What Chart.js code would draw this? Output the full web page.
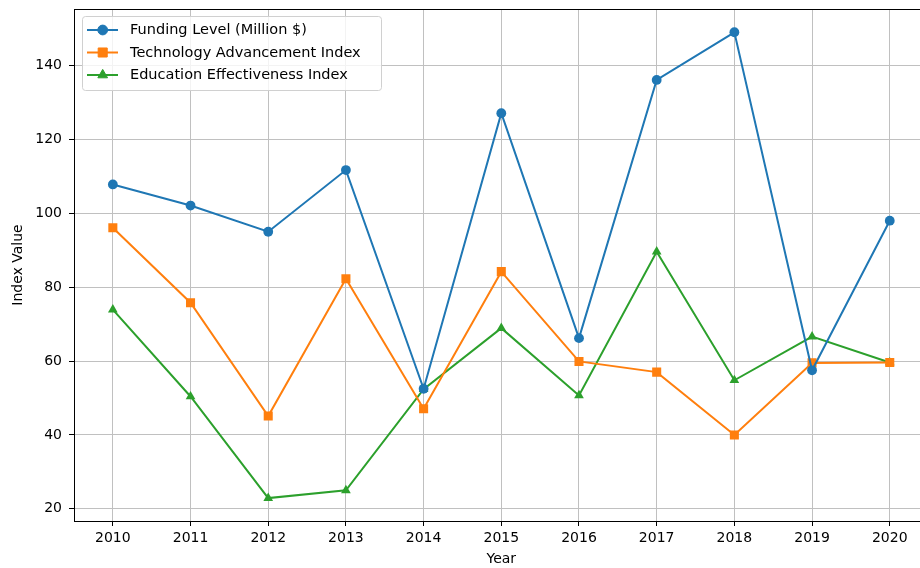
<!DOCTYPE html>
<html>
<head>
<meta charset="utf-8">
<script src="https://cdn.jsdelivr.net/npm/chart.js@4/dist/chart.umd.min.js"></script>
<style>
html,body{margin:0;padding:0;background:#fff;overflow:hidden;width:920px;height:568px;}
canvas{display:block;}
</style>
</head>
<body>
<canvas id="c" width="935" height="568"></canvas>
<script>
const years = [2010, 2011, 2012, 2013, 2014, 2015, 2016, 2017, 2018, 2019, 2020];
const funding = [107.8, 102.1, 95.0, 111.7, 52.5, 127.1, 66.2, 136.1, 149.0, 57.5, 98.0];
const technology = [96.1, 75.8, 45.1, 82.3, 47.1, 84.2, 59.9, 57.0, 40.0, 59.5, 59.6];
const education = [73.9, 50.4, 22.9, 25.0, 52.4, 68.9, 50.7, 89.6, 54.8, 66.6, 59.6];
const yTicks = [20, 40, 60, 80, 100, 120, 140];
const seriesNames = ['Funding Level (Million $)', 'Technology Advancement Index', 'Education Effectiveness Index'];

const FONT = 'DejaVu Sans';
const pts = arr => years.map((y, i) => ({x: y, y: arr[i]}));

const spinePlugin = {
  id: 'spines',
  afterDatasetsDraw(chart) {
    const {ctx, chartArea: a} = chart;
    ctx.save();
    ctx.strokeStyle = '#000';
    ctx.lineWidth = 1;
    ctx.strokeRect(Math.round(a.left) + 0.5, Math.round(a.top) + 0.5, Math.round(a.right - a.left), Math.round(a.bottom - a.top));
    ctx.restore();
  }
};

const legendPlugin = {
  id: 'mplLegend',
  afterDraw(chart) {
    const ctx = chart.ctx;
    const x0 = 82, y0 = 16, w = 299, h = 74;
    ctx.save();
    ctx.beginPath();
    if (ctx.roundRect) ctx.roundRect(x0 + 0.5, y0 + 0.5, w, h, 3); else ctx.rect(x0 + 0.5, y0 + 0.5, w, h);
    ctx.fillStyle = 'rgba(255,255,255,0.8)';
    ctx.fill();
    ctx.strokeStyle = '#d0d0d0';
    ctx.lineWidth = 1;
    ctx.stroke();
    chart.data.datasets.forEach((ds, i) => {
      const cy = 30 + i * 22.5;
      ctx.beginPath();
      ctx.strokeStyle = ds.borderColor;
      ctx.lineWidth = ds.borderWidth;
      ctx.moveTo(87, cy);
      ctx.lineTo(118, cy);
      ctx.stroke();
      ctx.fillStyle = ds.backgroundColor;
      ctx.strokeStyle = ds.borderColor;
      ctx.lineWidth = 1;
      Chart.helpers.drawPoint(ctx, {pointStyle: ds.pointStyle, radius: ds.pointRadius, borderWidth: 1, rotation: 0}, 102.7, cy);
      ctx.fillStyle = '#000';
      ctx.font = '14.5px "' + FONT + '"';
      ctx.textBaseline = 'middle';
      ctx.textAlign = 'left';
      ctx.fillText(ds.label, 130, cy + 0.5);
    });
    ctx.restore();
  }
};

new Chart(document.getElementById('c'), {
  type: 'line',
  data: {
    datasets: [
      {label: seriesNames[0], data: pts(funding), borderColor: '#1f77b4', backgroundColor: '#1f77b4', borderWidth: 2, pointStyle: 'circle', pointRadius: 4.9, pointBorderWidth: 0, pointHoverRadius: 4.9},
      {label: seriesNames[1], data: pts(technology), borderColor: '#ff7f0e', backgroundColor: '#ff7f0e', borderWidth: 2, pointStyle: 'rect', pointRadius: 6.4, pointBorderWidth: 0, pointHoverRadius: 6.4},
      {label: seriesNames[2], data: pts(education), borderColor: '#2ca02c', backgroundColor: '#2ca02c', borderWidth: 2, pointStyle: 'triangle', pointRadius: 5.6, pointBorderWidth: 0, pointHoverRadius: 5.6}
    ]
  },
  options: {
    responsive: false,
    animation: false,
    devicePixelRatio: 1,
    layout: {padding: {top: 9, right: 3, left: 0, bottom: 0}},
    plugins: {legend: {display: false}, tooltip: {enabled: false}},
    elements: {line: {tension: 0}},
    scales: {
      x: {
        type: 'linear',
        min: 2009.5,
        max: 2020.5,
        afterBuildTicks: s => { s.ticks = years.map(v => ({value: v})); },
        afterFit: s => { s.height = 47; s.paddingLeft = 0; s.paddingRight = 0; },
        ticks: {color: '#000', font: {family: FONT, size: 14}, padding: 4, maxRotation: 0, autoSkip: false, callback: v => String(v)},
        grid: {color: '#c0c0c0', lineWidth: 1, drawTicks: true, tickLength: 5, tickColor: '#000', tickWidth: 1},
        border: {display: true, color: '#000', width: 1},
        title: {display: true, text: 'Year', color: '#000', font: {family: FONT, size: 14}, padding: {top: 0, bottom: 0}}
      },
      y: {
        type: 'linear',
        min: 16.7,
        max: 155.3,
        afterBuildTicks: s => { s.ticks = yTicks.map(v => ({value: v})); },
        afterFit: s => { s.width = 74; s.paddingTop = 0; s.paddingBottom = 0; },
        ticks: {color: '#000', font: {family: FONT, size: 14}, padding: 7, callback: v => String(v)},
        grid: {color: '#c0c0c0', lineWidth: 1, drawTicks: true, tickLength: 5, tickColor: '#000', tickWidth: 1},
        border: {display: true, color: '#000', width: 1},
        title: {display: true, text: 'Index Value', color: '#000', font: {family: FONT, size: 14}, padding: {top: 10, bottom: 0}}
      }
    }
  },
  plugins: [spinePlugin, legendPlugin]
});
</script>
</body>
</html>
